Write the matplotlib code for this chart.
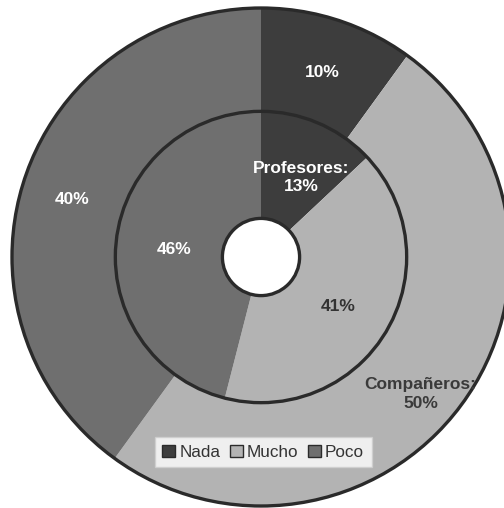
import matplotlib.pyplot as plt
from matplotlib.patches import Circle

categorias = ['Nada', 'Mucho', 'Poco']
companeros = [10, 50, 40]   # anillo exterior
profesores = [13, 41, 46]   # anillo interior
colores = ['#3d3d3d', '#b3b3b3', '#6f6f6f']

plt.rcParams['font.family'] = ['Liberation Sans', 'DejaVu Sans']

fig = plt.figure(figsize=(5.04, 5.08), dpi=100)
ax = fig.add_axes([0, 0, 1, 1])

r_ext, r_med, r_hueco = 1.0, 0.585, 0.155
borde = '#2a2a2a'

w_ext, _ = ax.pie(companeros, radius=r_ext, colors=colores, startangle=90,
                  counterclock=False, wedgeprops=dict(width=r_ext - r_med, linewidth=0))
w_int, _ = ax.pie(profesores, radius=r_med, colors=colores, startangle=90,
                  counterclock=False, wedgeprops=dict(width=r_med - r_hueco, linewidth=0))

for r in (r_ext, r_med, r_hueco):
    ax.add_patch(Circle((0, 0), r, fill=False, edgecolor=borde, linewidth=2.4))

fs = 12.5
# etiquetas de cada sector
ax.text(0.245, 0.74, f'{companeros[0]}%', ha='center', va='center',
        color='white', fontsize=fs, fontweight='bold')
ax.text(0.16, 0.32, f'Profesores:\n{profesores[0]}%', ha='center', va='center',
        color='white', fontsize=fs, fontweight='bold', linespacing=1.3)
ax.text(-0.76, 0.23, f'{companeros[2]}%', ha='center', va='center',
        color='white', fontsize=fs, fontweight='bold')
ax.text(-0.35, 0.03, f'{profesores[2]}%', ha='center', va='center',
        color='white', fontsize=fs, fontweight='bold')
ax.text(0.31, -0.2, f'{profesores[1]}%', ha='center', va='center',
        color='#333333', fontsize=fs, fontweight='bold')
ax.text(0.64, -0.55, f'Compañeros:\n{companeros[1]}%', ha='center', va='center',
        color='#3a3a3a', fontsize=fs, fontweight='bold', linespacing=1.3)

leg = fig.legend(w_ext, categorias, loc='center', bbox_to_anchor=(0.522, 0.11),
                 ncol=3, fontsize=12.3, frameon=True, fancybox=False,
                 handlelength=0.75, handleheight=0.75, handletextpad=0.25,
                 columnspacing=0.55, borderpad=0.45)
leg.get_frame().set_edgecolor('#cfcfcf')
leg.get_frame().set_linewidth(1)
for t in leg.get_texts():
    t.set_color('#333333')
for h in leg.legend_handles:
    h.set_edgecolor('#2a2a2a')
    h.set_linewidth(1)

# centro en píxeles (261, 257), radio exterior ~249 px
esc = 249
ax.set_xlim(-261 / esc, (504 - 261) / esc)
ax.set_ylim((257 - 508) / esc, 257 / esc)
ax.set_aspect('auto')
ax.axis('off')

fig.savefig('out.png', dpi=100, facecolor='white')
